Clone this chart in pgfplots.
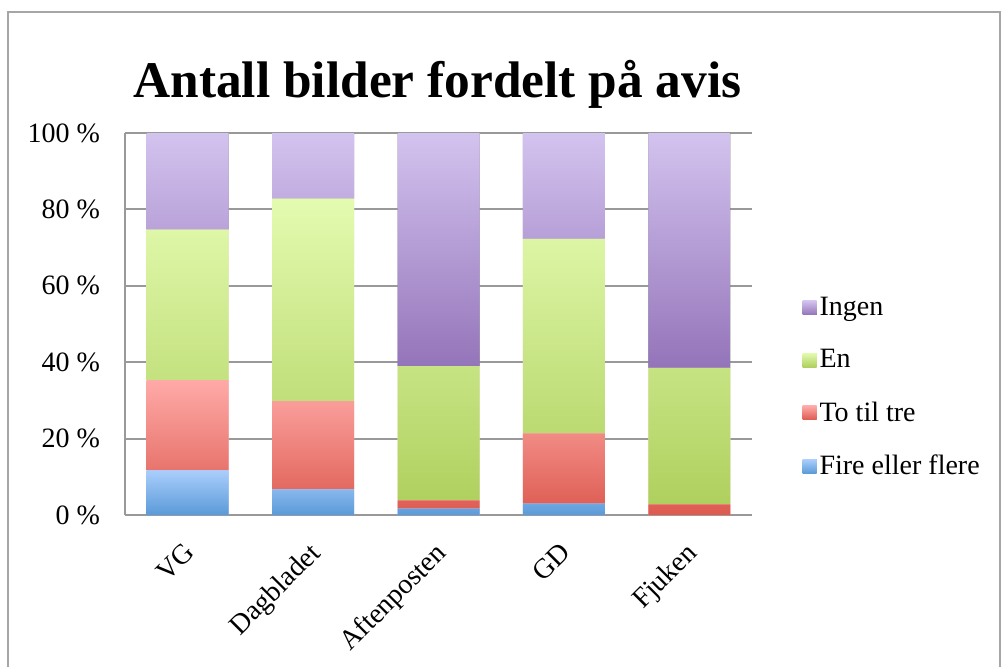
\documentclass[border=0pt]{standalone}
\usepackage{pgfplots}
\pgfplotsset{compat=1.18}
\usepackage{fontspec}
\setmainfont{Liberation Serif}
\definecolor{pTop}{HTML}{D3C3EF}
\definecolor{pBot}{HTML}{9474B9}
\definecolor{gTop}{HTML}{E3FBB0}
\definecolor{gBot}{HTML}{AFD05E}
\definecolor{rTop}{HTML}{FFAAA8}
\definecolor{rBot}{HTML}{DC5A4F}
\definecolor{bTop}{HTML}{AACEFC}
\definecolor{bBot}{HTML}{5A9AD8}
\definecolor{gridc}{HTML}{999999}
\definecolor{framec}{HTML}{A6A6A6}
\pgfplotsset{
  sqlegend/.style={legend image code/.code={\path[##1] (0pt,-3.5pt) rectangle (7pt,3.5pt);}}
}
\begin{document}
\begin{tikzpicture}
\useasboundingbox (0,0) rectangle (503.5pt,333pt);
\draw[framec, line width=1pt] (4pt,-5pt) rectangle (500pt,327pt);
\node[anchor=base, font=\fontsize{25.7}{30}\selectfont\bfseries] at (218.75pt,284pt) {Antall bilder fordelt på avis};
\begin{axis}[
  at={(62.5pt,75.5pt)}, anchor=south west,
  scale only axis, width=313.5pt, height=191pt,
  ybar stacked, bar width=41pt,
  xmin=-0.5, xmax=4.5, ymin=0, ymax=100,
  xtick={0,1,2,3,4},
  xticklabels={VG, Dagbladet, Aftenposten, GD, Fjuken},
  ytick={0,20,40,60,80,100},
  yticklabels={0 \%, 20 \%, 40 \%, 60 \%, 80 \%, 100 \%},
  axis lines*=left,
  axis line style={gridc, line width=1pt, -},
  major tick length=0pt,
  ymajorgrids, grid style={gridc, line width=1pt},
  yticklabel style={font=\fontsize{14}{16}\selectfont, xshift=-9pt},
  xticklabel style={font=\fontsize{14}{16}\selectfont, xshift=-2.5pt, yshift=-8pt, rotate=45, anchor=north east},
  legend style={draw=none, fill=none, at={(1.08,0.334)}, anchor=west,
    font=\fontsize{14}{16}\selectfont, row sep=12.5pt, inner sep=0pt,
    nodes={inner sep=1.5pt}},
  legend cell align=left,
  reverse legend,
]
\addplot+[sqlegend, draw=none, top color=bTop, bottom color=bBot] coordinates {(0,11.7) (1,6.7) (2,1.7) (3,3.0) (4,0)};
\addplot+[sqlegend, draw=none, top color=rTop, bottom color=rBot] coordinates {(0,23.6) (1,23.1) (2,2.1) (3,18.4) (4,2.8)};
\addplot+[sqlegend, draw=none, top color=gTop, bottom color=gBot] coordinates {(0,39.4) (1,53.0) (2,35.2) (3,50.9) (4,35.7)};
\addplot+[sqlegend, draw=none, top color=pTop, bottom color=pBot] coordinates {(0,25.3) (1,17.2) (2,61.0) (3,27.7) (4,61.5)};
\legend{Fire eller flere, To til tre, En, Ingen}
\end{axis}
\end{tikzpicture}
\end{document}
